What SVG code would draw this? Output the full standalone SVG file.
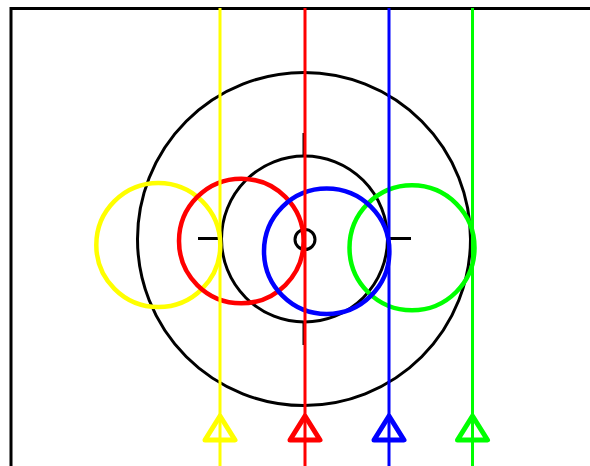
<svg xmlns="http://www.w3.org/2000/svg" width="590" height="466" viewBox="0 0 590 466">
<style>
.k{fill:none;stroke:#000;stroke-width:3}
.c{fill:none;stroke-width:4.5}
.l{stroke-width:3}
.t{fill:none;stroke-width:5;stroke-linejoin:round}
.y{stroke:#ffff00}.r{stroke:#ff0000}.b{stroke:#0000ff}.g{stroke:#00ff00}
</style>
<rect width="590" height="466" fill="#fff"/>
<g id="border"><path class="k" d="M11,466 V8.5 H590" stroke-width="3.5"/></g>
<g id="house">
<circle class="k" cx="304" cy="239" r="166.5"/>
<circle class="k" cx="304.5" cy="239" r="83"/>
<circle class="k" cx="305" cy="239.5" r="10"/>
<path class="k" d="M198,238.5 H221 M388,238.5 H411 M304,133 V156 M304,322 V345"/>
</g>
<g id="circles">
<circle id="yellow-circle" class="c y" cx="158.3" cy="245" r="62"/>
<circle id="red-circle" class="c r" cx="241.3" cy="241" r="62.3"/>
<circle id="green-circle" class="c g" cx="412" cy="247.8" r="62.5"/>
<circle id="blue-circle" class="c b" cx="326.7" cy="251.3" r="62.7"/>
</g>
<g id="connectors">
<line class="l y" x1="220" y1="8" x2="220" y2="466"/>
<line class="l r" x1="305" y1="8" x2="305" y2="466"/>
<line class="l b" x1="389" y1="8" x2="389" y2="466"/>
<line class="l g" x1="472.5" y1="8" x2="472.5" y2="466"/>
</g>
<g id="triangles">
<path class="t y" d="M220,416 L235,440 L205,440 Z"/>
<path class="t r" d="M305,416 L320,440 L290,440 Z"/>
<path class="t b" d="M389,416 L404,440 L374,440 Z"/>
<path class="t g" d="M472.5,416 L487.5,440 L457.5,440 Z"/>
</g>
</svg>
